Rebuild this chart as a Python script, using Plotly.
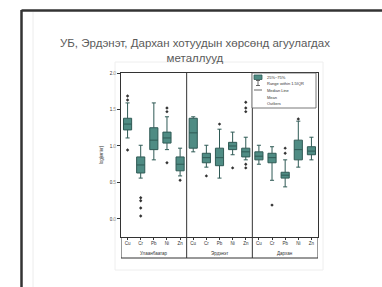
import plotly.graph_objects as go

# ---------------- data ----------------
CITIES = ["Улаанбаатар", "Эрдэнэт", "Дархан"]
METALS = ["Cu", "Cr", "Pb", "Ni", "Zn"]
Y_TICKS = [0.0, 0.5, 1.0, 1.5, 2.0]
Y_TICK_TEXT = ["0.0", "0.5", "1.0", "1.5", "2.0"]
TITLE = "УБ, Эрдэнэт, Дархан хотуудын хөрсөнд агуулагдах<br>металлууд"
Y_TITLE = "log(мг/кг)"
LEGEND_TEXT = ["25%~75%", "Range within 1.5IQR", "Median Line", "Mean", "Outliers"]

# order: УБ Cu..Zn, Эрдэнэт Cu..Zn, Дархан Cu..Zn
LOWER = [1.11, 0.56, 0.81, 0.95, 0.59, 0.92, 0.71, 0.56, 0.88, 0.81, 0.75, 0.53, 0.44, 0.71, 0.81]
Q1 = [1.22, 0.63, 0.95, 1.04, 0.66, 0.97, 0.77, 0.73, 0.95, 0.85, 0.81, 0.77, 0.56, 0.81, 0.88]
MEDIAN = [1.30, 0.74, 1.08, 1.11, 0.75, 1.18, 0.84, 0.84, 1.00, 0.92, 0.86, 0.84, 0.60, 0.95, 0.93]
Q3 = [1.38, 0.85, 1.25, 1.19, 0.85, 1.38, 0.90, 0.97, 1.05, 0.97, 0.92, 0.90, 0.64, 1.08, 0.99]
UPPER = [1.59, 1.01, 1.59, 1.40, 0.97, 1.40, 1.01, 1.23, 1.19, 1.12, 1.01, 0.99, 0.81, 1.34, 1.12]

OUTLIER_IDX = [0, 0, 0, 1, 1, 1, 1, 3, 3, 3, 4, 6, 7, 8, 9, 9, 9, 9, 9, 11, 12, 12, 13]
OUTLIER_VAL = [1.63, 1.685, 0.945, 0.29, 0.25, 0.15, 0.04, 1.47, 1.52, 0.77, 0.53, 0.59, 1.30,
               0.70, 1.47, 1.52, 1.60, 0.75, 0.70, 0.19, 0.97, 0.90, 1.37]

# ---------------- geometry helpers ----------------
W, H = 382, 287
L, R, T, B = 121, 318, 73, 237
Y_MIN, Y_MAX = -0.247, 2.0
N = len(CITIES) * len(METALS)
POS = [i + 0.5 for i in range(N)]
LABELS = [m for _ in CITIES for m in METALS]


def pxx(x):  # pixel x -> paper x
    return (x - L) / (R - L)


def pyy(y):  # pixel y -> paper y
    return (B - y) / (B - T)


def dx(x):  # pixel x -> data x
    return (x - L) / (R - L) * N


def dy(y):  # pixel y -> data y
    return Y_MAX - (y - T) / (B - T) * (Y_MAX - Y_MIN)


TEAL = "#4f8c84"
TEAL_LINE = "#2f5a55"
AX = "#333333"

fig = go.Figure()

fig.add_trace(go.Box(
    x=POS, q1=Q1, median=MEDIAN, q3=Q3, lowerfence=LOWER, upperfence=UPPER,
    width=0.62, whiskerwidth=0.5, boxpoints=False,
    fillcolor=TEAL, line=dict(color=TEAL_LINE, width=1), showlegend=False,
))

fig.add_trace(go.Scatter(
    x=[POS[i] for i in OUTLIER_IDX], y=OUTLIER_VAL, mode="markers",
    marker=dict(symbol="diamond", size=2.6, color="#333333"), showlegend=False,
))

shapes = []
ann = []

# panel dividers extended through label rows
bottom = pyy(258)
for xv in [5, 10]:
    shapes.append(dict(type="line", xref="x", yref="paper", x0=xv, x1=xv, y0=bottom, y1=1,
                       line=dict(color=AX, width=1)))
for xv in [0, N]:
    shapes.append(dict(type="line", xref="x", yref="paper", x0=xv, x1=xv, y0=bottom, y1=0,
                       line=dict(color=AX, width=1)))
shapes.append(dict(type="line", xref="x", yref="paper", x0=0, x1=N, y0=bottom, y1=bottom,
                   line=dict(color=AX, width=1)))

for k, c in enumerate(CITIES):
    ann.append(dict(x=k * 5 + 2.5, y=pyy(253), xref="x", yref="paper", text=c, showarrow=False,
                    font=dict(size=4.5, color="#333"), xanchor="center", yanchor="middle"))

# slide frame
shapes.append(dict(type="line", xref="paper", yref="paper", x0=pxx(21.5), x1=pxx(21.5),
                   y0=pyy(10), y1=pyy(290), line=dict(color="#333", width=2.5)))
shapes.append(dict(type="line", xref="paper", yref="paper", x0=pxx(21.5), x1=pxx(385),
                   y0=pyy(10.5), y1=pyy(10.5), line=dict(color="#333", width=2.5)))
shapes.append(dict(type="line", xref="paper", yref="paper", x0=pxx(33), x1=pxx(33),
                   y0=pyy(12), y1=pyy(290), line=dict(color="#ececec", width=1)))
# faint picture border
shapes.append(dict(type="rect", xref="paper", yref="paper", x0=pxx(115), x1=pxx(323),
                   y0=pyy(270), y1=pyy(62), line=dict(color="#eeeeee", width=1)))

# legend box
shapes.append(dict(type="rect", xref="paper", yref="paper", x0=pxx(252), x1=pxx(316),
                   y0=pyy(108), y1=pyy(73), line=dict(color="#555", width=0.8),
                   fillcolor="white"))
rows = [77, 83, 90, 97, 103]
shapes.append(dict(type="rect", xref="paper", yref="paper", x0=pxx(254), x1=pxx(262),
                   y0=pyy(79.5), y1=pyy(75), line=dict(color=TEAL_LINE, width=0.8),
                   fillcolor=TEAL))
shapes.append(dict(type="line", xref="paper", yref="paper", x0=pxx(258), x1=pxx(258),
                   y0=pyy(85.5), y1=pyy(80.5), line=dict(color="#444", width=0.8)))
for yy in [80.5, 85.5]:
    shapes.append(dict(type="line", xref="paper", yref="paper", x0=pxx(256), x1=pxx(260),
                       y0=pyy(yy), y1=pyy(yy), line=dict(color="#444", width=0.8)))
shapes.append(dict(type="line", xref="paper", yref="paper", x0=pxx(254), x1=pxx(262),
                   y0=pyy(90), y1=pyy(90), line=dict(color="#444", width=0.8)))
fig.add_trace(go.Scatter(
    x=[dx(258), dx(258)], y=[dy(97), dy(103)], mode="markers",
    marker=dict(symbol=["square-open", "diamond"], size=3, color="#333"),
    showlegend=False, cliponaxis=False,
))
for r, t in zip(rows, LEGEND_TEXT):
    ann.append(dict(x=pxx(265), y=pyy(r), xref="paper", yref="paper", text=t, showarrow=False,
                    font=dict(size=4, color="#333"), xanchor="left", yanchor="middle"))

# title
ann.append(dict(x=pxx(195), y=pyy(50.5), xref="paper", yref="paper", text=TITLE, showarrow=False,
                font=dict(size=11.5, color="#5a5a5a", family="Arial"), xanchor="center",
                yanchor="middle", align="center"))

fig.update_layout(
    width=W, height=H,
    margin=dict(l=L, r=W - R, t=T, b=H - B),
    paper_bgcolor="white", plot_bgcolor="white",
    font=dict(family="Arial", color="#333"),
    shapes=shapes, annotations=ann, showlegend=False,
    xaxis=dict(range=[0, N], tickvals=POS, ticktext=LABELS, tickfont=dict(size=4.5),
               ticks="outside", ticklen=2, tickcolor=AX, showline=True, linecolor=AX,
               linewidth=1, mirror=True, showgrid=False, zeroline=False, fixedrange=True),
    yaxis=dict(range=[Y_MIN, Y_MAX], tickvals=Y_TICKS, ticktext=Y_TICK_TEXT,
               tickfont=dict(size=4.5), ticks="outside", ticklen=3, tickcolor=AX,
               showline=True, linecolor=AX, linewidth=1, mirror=True, showgrid=False,
               zeroline=False, title=dict(text=Y_TITLE, font=dict(size=4.5), standoff=6)),
)

fig.write_html("out.html", config={"displayModeBar": False},
               post_script="document.body.style.margin='0';")
